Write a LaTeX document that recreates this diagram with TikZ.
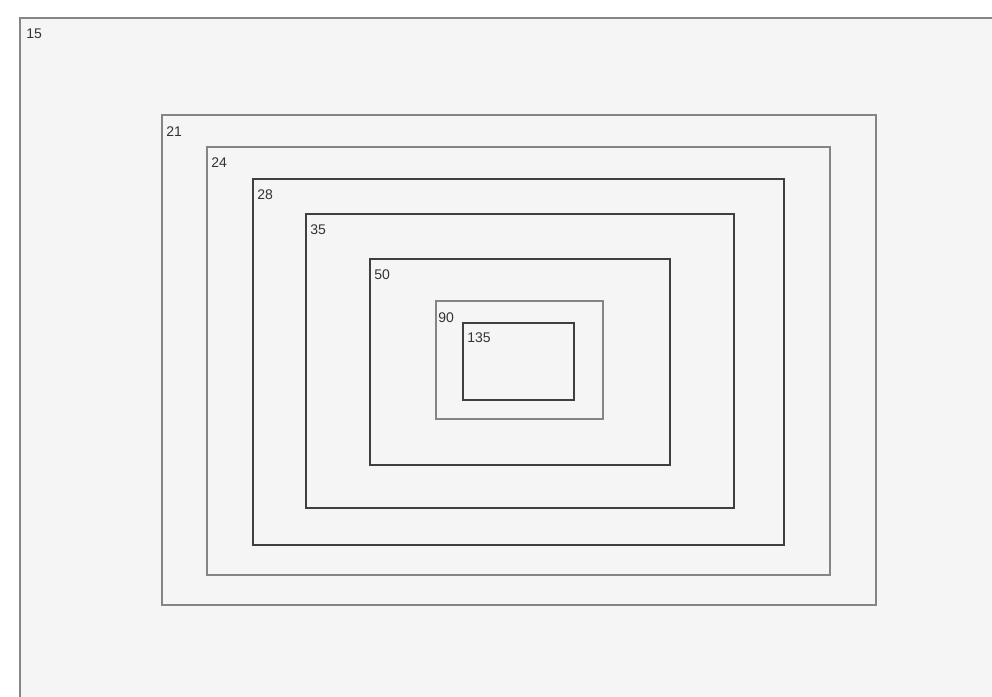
\documentclass[tikz,border=0pt]{standalone}
\usepackage{fontspec}
\setmainfont{Liberation Sans}
\definecolor{bgfill}{HTML}{F5F5F5}
\definecolor{lightedge}{HTML}{858585}
\definecolor{darkedge}{HTML}{3F3F3F}
\definecolor{labelcol}{HTML}{333333}
\begin{document}
\begin{tikzpicture}[x=0.75pt,y=-0.75pt,
  boxlight/.style={draw=lightedge,line width=1.1pt},
  boxdark/.style={draw=darkedge,line width=1.1pt},
  lbl/.style={anchor=base west,inner sep=0pt,text=labelcol,font=\fontsize{10.5}{12}\selectfont}]
\useasboundingbox (0,0) rectangle (992,696);
\fill[white] (0,0) rectangle (992,696);
\begin{scope}
\clip (0,0) rectangle (992,696);
\filldraw[fill=bgfill,draw=lightedge,line width=1.1pt] (20,18) rectangle (1010,720);
\end{scope}
\node[lbl] (l15) at (26,38) {15};
\draw[boxlight] (162,115) rectangle (876,605);
\node[lbl] (l21) at (166,136) {21};
\draw[boxlight] (207,147) rectangle (830,575);
\node[lbl] (l24) at (211,167) {24};
\draw[boxdark] (253,179) rectangle (784,545);
\node[lbl] (l28) at (257,199) {28};
\draw[boxdark] (306,214) rectangle (734,508);
\node[lbl] (l35) at (310,234) {35};
\draw[boxdark] (370,259) rectangle (670,465);
\node[lbl] (l50) at (374,279) {50};
\draw[boxlight] (436,301) rectangle (603,419);
\node[lbl] (l90) at (438,322) {90};
\draw[boxdark] (463,323) rectangle (574,400);
\node[lbl] (l135) at (467,342) {135};
\end{tikzpicture}
\end{document}
